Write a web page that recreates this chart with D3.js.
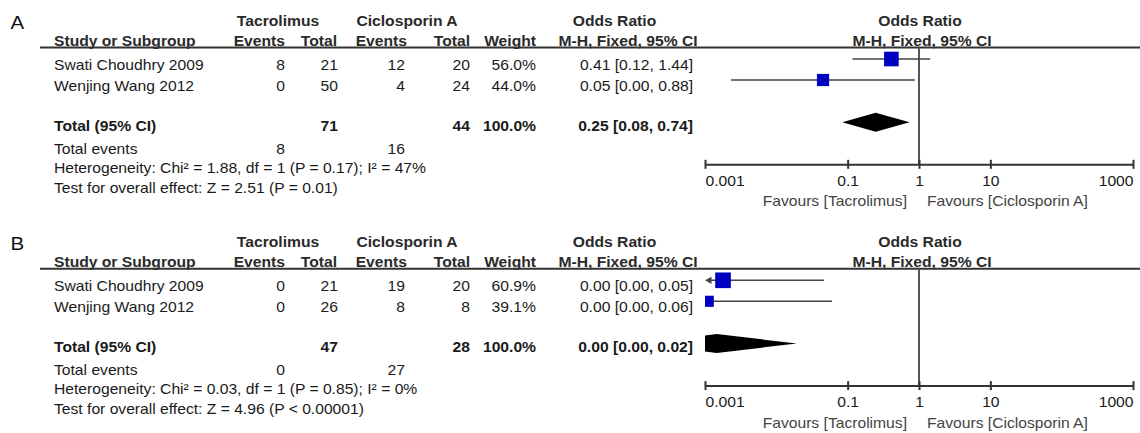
<!DOCTYPE html>
<html>
<head>
<meta charset="utf-8">
<script src="https://cdn.jsdelivr.net/npm/d3@7"></script>
<style>
  body { margin: 0; background: #fff; }
  svg { display: block; }
  text { font-family: "Liberation Sans", Arial, Helvetica, sans-serif; }
</style>
</head>
<body>
<svg id="chart" width="1140" height="433"></svg>
<script>
// ---- data ----
const studies = ["Swati Choudhry 2009", "Wenjing Wang 2012"];

// A: Tacrolimus vs Ciclosporin A
const tacEventsA = [8, 0];
const tacTotalA = [21, 50];
const cicEventsA = [12, 4];
const cicTotalA = [20, 24];
const weightA = [56.0, 44.0];
const orA = [0.410, 0.0451];
const loA = [0.117, 0.00232];
const hiA = [1.439, 0.876];
const pooledA = [0.247, 0.084, 0.738];   // OR, lower, upper
const hetA = "Heterogeneity: Chi² = 1.88, df = 1 (P = 0.17); I² = 47%";
const effectA = "Test for overall effect: Z = 2.51 (P = 0.01)";

// B: Tacrolimus vs Ciclosporin A
const tacEventsB = [0, 0];
const tacTotalB = [21, 26];
const cicEventsB = [19, 8];
const cicTotalB = [20, 8];
const weightB = [60.9, 39.1];
const orB = [0.00179, 0.00111];
const loB = [0.000069, 0.0000226];
const hiB = [0.0466, 0.0603];
const pooledB = [0.00146, 0.00011, 0.0193];
const hetB = "Heterogeneity: Chi² = 0.03, df = 1 (P = 0.85); I² = 0%";
const effectB = "Test for overall effect: Z = 4.96 (P < 0.00001)";

const tickValues = [0.001, 0.1, 1, 10, 1000];
const tickLabels = ["0.001", "0.1", "1", "10", "1000"];
const favourLeft = "Favours [Tacrolimus]";
const favourRight = "Favours [Ciclosporin A]";

const panels = [
  { label: "A", dy: 0, tacEv: tacEventsA, tacTot: tacTotalA, cicEv: cicEventsA, cicTot: cicTotalA,
    w: weightA, or: orA, lo: loA, hi: hiA, pooled: pooledA, het: hetA, effect: effectA },
  { label: "B", dy: 221.3, tacEv: tacEventsB, tacTot: tacTotalB, cicEv: cicEventsB, cicTot: cicTotalB,
    w: weightB, or: orB, lo: loB, hi: hiB, pooled: pooledB, het: hetB, effect: effectB }
];

// ---- layout ----
const SX = 1.08, FS = 14.5;
const INK = "#1a1a1a";
const svg = d3.select("#chart");
const x = d3.scaleLog().domain([0.001, 1000]).range([705, 1133]);
const side = d3.scaleLinear().domain([0, 100]).range([3.1, 23.7]);
const f2 = d3.format(".2f");
const f1 = d3.format(".1f");

const col = { study: 54, tacEv: 285, tacTot: 338, cicEv: 405, cicTot: 470, weight: 536, or: 693 };

svg.append("defs").append("clipPath").attr("id", "plotClip")
  .append("rect").attr("x", x.range()[0]).attr("y", 0)
  .attr("width", x.range()[1] - x.range()[0]).attr("height", 433);

function txt(g, px, py, s, o = {}) {
  return g.append("text")
    .attr("transform", `translate(${px},${py}) scale(${SX},1)`)
    .attr("text-anchor", o.anchor || "start")
    .attr("font-size", o.size || FS)
    .attr("font-weight", o.bold ? "bold" : "normal")
    .attr("fill", o.fill || INK)
    .text(s);
}

panels.forEach(p => {
  const g = svg.append("g").attr("transform", `translate(0,${p.dy})`);
  const head1 = 25.5, head2 = 46, ruleY = 47.5;
  const rowText = [69.5, 90.5], rowMark = [59, 80];
  const totText = 130.5, totMark = 122.2;
  const evY = 153.5, hetY = 172.5, effY = 192.5;
  const axisY = 164.3;

  // panel letter
  txt(g, 10.5, 29, p.label, { size: 19, fill: "#111" });

  // column headers
  const HC = "#2a2a2a";
  txt(g, 278, head1, "Tacrolimus", { anchor: "middle", bold: true, fill: HC });
  txt(g, 407, head1, "Ciclosporin A", { anchor: "middle", bold: true, fill: HC });
  txt(g, 614.5, head1, "Odds Ratio", { anchor: "middle", bold: true, fill: HC });
  txt(g, 920, head1, "Odds Ratio", { anchor: "middle", bold: true, fill: HC });
  txt(g, col.study, head2, "Study or Subgroup", { bold: true, fill: HC });
  txt(g, 285, head2, "Events", { anchor: "end", bold: true, fill: HC });
  txt(g, 337, head2, "Total", { anchor: "end", bold: true, fill: HC });
  txt(g, 407, head2, "Events", { anchor: "end", bold: true, fill: HC });
  txt(g, 470, head2, "Total", { anchor: "end", bold: true, fill: HC });
  txt(g, 536, head2, "Weight", { anchor: "end", bold: true, fill: HC });
  txt(g, 628, head2, "M-H, Fixed, 95% CI", { anchor: "middle", bold: true, fill: HC });
  txt(g, 922, head2, "M-H, Fixed, 95% CI", { anchor: "middle", bold: true, fill: HC });

  g.append("line").attr("x1", 40).attr("x2", 1140).attr("y1", ruleY).attr("y2", ruleY)
    .attr("stroke", "#333").attr("stroke-width", 2);

  // line of no effect
  g.append("line").attr("x1", x(1)).attr("x2", x(1)).attr("y1", ruleY).attr("y2", axisY)
    .attr("stroke", "#555").attr("stroke-width", 2);

  // study rows
  studies.forEach((name, i) => {
    const ty = rowText[i];
    txt(g, col.study, ty, name);
    txt(g, col.tacEv, ty, p.tacEv[i], { anchor: "end" });
    txt(g, col.tacTot, ty, p.tacTot[i], { anchor: "end" });
    txt(g, col.cicEv, ty, p.cicEv[i], { anchor: "end" });
    txt(g, col.cicTot, ty, p.cicTot[i], { anchor: "end" });
    txt(g, col.weight, ty, f1(p.w[i]) + "%", { anchor: "end" });
    txt(g, col.or, ty, `${f2(p.or[i])} [${f2(p.lo[i])}, ${f2(p.hi[i])}]`, { anchor: "end" });

    const my = rowMark[i];
    const [dMin, dMax] = x.domain();
    const lo = Math.max(p.lo[i], dMin), hi = Math.min(p.hi[i], dMax);
    const x0 = x(lo) + (p.lo[i] < dMin ? 5 : 0);
    g.append("line").attr("x1", x0).attr("x2", x(hi)).attr("y1", my).attr("y2", my)
      .attr("stroke", "#444").attr("stroke-width", 1.6);
    if (p.lo[i] < dMin) {
      const ax = x(dMin);
      g.append("path").attr("d", `M${ax},${my}L${ax + 6.5},${my - 3.6}L${ax + 6.5},${my + 3.6}Z`)
        .attr("fill", "#444");
    }
    const s = side(p.w[i]);
    g.append("rect").attr("clip-path", "url(#plotClip)")
      .attr("x", x(p.or[i]) - s / 2).attr("y", my - s / 2)
      .attr("width", s).attr("height", s)
      .attr("fill", "#0000c0");
  });

  // pooled row
  const tot = d3.sum(p.w);
  txt(g, col.study, totText, "Total (95% CI)", { bold: true });
  txt(g, col.tacTot, totText, d3.sum(p.tacTot), { anchor: "end", bold: true });
  txt(g, col.cicTot, totText, d3.sum(p.cicTot), { anchor: "end", bold: true });
  txt(g, col.weight, totText, f1(tot) + "%", { anchor: "end", bold: true });
  txt(g, col.or, totText, `${f2(p.pooled[0])} [${f2(p.pooled[1])}, ${f2(p.pooled[2])}]`,
    { anchor: "end", bold: true });

  const hh = 9.5;
  g.append("path").attr("clip-path", "url(#plotClip)")
    .attr("d", `M${x(p.pooled[1])},${totMark}L${x(p.pooled[0])},${totMark - hh}` +
               `L${x(p.pooled[2])},${totMark}L${x(p.pooled[0])},${totMark + hh}Z`)
    .attr("fill", "#000");

  txt(g, col.study, evY, "Total events");
  txt(g, col.tacEv, evY, d3.sum(p.tacEv), { anchor: "end" });
  txt(g, col.cicEv, evY, d3.sum(p.cicEv), { anchor: "end" });
  txt(g, col.study, hetY, p.het);
  txt(g, col.study, effY, p.effect);

  // log axis
  const axis = d3.axisBottom(x).tickValues(tickValues)
    .tickFormat((d, i) => tickLabels[i]).tickSizeOuter(0).tickSize(0);
  const ag = g.append("g").attr("transform", `translate(0,${axisY})`).call(axis);
  ag.attr("font-size", FS).attr("font-family", null);
  ag.select(".domain").attr("stroke", "#333").attr("stroke-width", 2);
  ag.selectAll(".tick line").attr("y1", -4.5).attr("y2", 4.5)
    .attr("stroke", "#333").attr("stroke-width", 2);
  const n = tickValues.length;
  ag.selectAll(".tick text")
    .attr("y", 0).attr("dy", 0)
    .attr("transform", `translate(0,21.5) scale(${SX},1)`)
    .attr("fill", INK)
    .attr("text-anchor", (d, i) => i === 0 ? "start" : (i === n - 1 ? "end" : "middle"));

  txt(g, x(1) - 12, axisY + 42, favourLeft, { anchor: "end", fill: "#444" });
  txt(g, x(1) + 8, axisY + 42, favourRight, { fill: "#444" });
});
</script>
</body>
</html>
